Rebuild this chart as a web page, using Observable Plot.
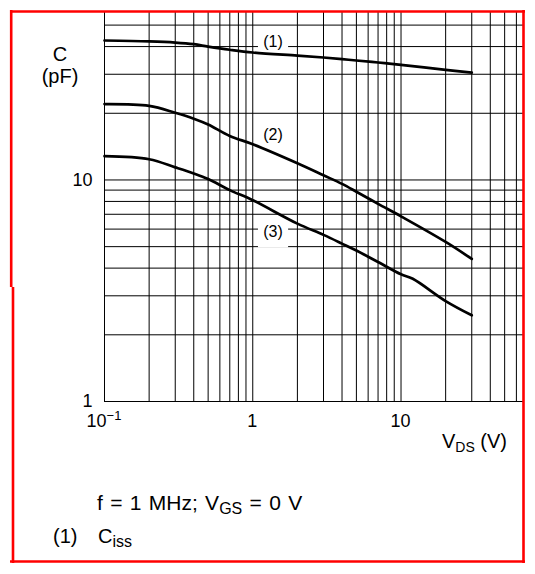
<!DOCTYPE html>
<html><head><meta charset="utf-8">
<script src="https://cdn.jsdelivr.net/npm/d3@7"></script>
<script src="https://cdn.jsdelivr.net/npm/@observablehq/plot@0.6"></script>
<style>
body{margin:0;background:#fff;}
#chart{position:relative;width:535px;height:574px;}
</style>
</head><body><div id="chart"></div>
<script>
// V_DS (V)
const vds = [0.1, 0.2, 0.3, 0.4, 0.5, 0.7, 1, 2, 3, 4, 5, 7, 10, 20, 30];
// (1) Ciss (pF)
const ciss = [42.6, 42.2, 41.7, 41.0, 40.0, 38.7, 37.6, 36.4, 35.7, 35.1, 34.6, 33.9, 33.1, 31.4, 30.5];
// (2) Coss (pF)
const coss = [22.0, 21.6, 20.1, 18.9, 17.8, 15.8, 14.5, 11.9, 10.5, 9.6, 8.85, 7.8, 6.85, 5.25, 4.4];
// (3) Crss (pF)
const vdsCrss = [0.1, 0.2, 0.3, 0.4, 0.5, 0.7, 1, 2, 3, 4, 5, 7, 10, 12, 20, 30];
const crss = [12.8, 12.4, 11.4, 10.7, 10.1, 9.0, 8.1, 6.35, 5.65, 5.16, 4.8, 4.26, 3.75, 3.58, 2.84, 2.45];

const xGrid = [0.1,0.2,0.3,0.4,0.5,0.6,0.7,0.8,0.9,1,2,3,4,5,6,7,8,9,10,20,30,40,50,60];
const yGrid = [1,2,3,4,5,6,7,8,9,10,20,30,40,50];
const xTicks = [0.1, 1, 10];
const yTicks = [1, 10];
const yTickLabels = ["1", "10"];

const curveLabels = [
  {x: 1.37, y: 42.2, t: "(1)"},
  {x: 1.37, y: 15.9, t: "(2)"},
  {x: 1.37, y: 5.8, t: "(3)"}
];

const rows = [
  ...vds.map((v, i) => ({s: "ciss", v, c: ciss[i]})),
  ...vds.map((v, i) => ({s: "coss", v, c: coss[i]})),
  ...vdsCrss.map((v, i) => ({s: "crss", v, c: crss[i]}))
];

const FONT = "'Liberation Sans', Arial, Helvetica, sans-serif";

const plot = Plot.plot({
  width: 535, height: 574,
  marginLeft: 104, marginRight: 12, marginTop: 12, marginBottom: 173,
  x: {type: "log", domain: [0.1, 67], axis: null},
  y: {type: "log", domain: [1, 57], axis: null},
  style: {fontFamily: FONT, background: "white", overflow: "visible"},
  marks: [
    Plot.ruleX(xGrid, {stroke: "black", strokeWidth: 1, strokeOpacity: 1}),
    Plot.ruleY(yGrid, {stroke: "black", strokeWidth: 1, strokeOpacity: 1}),
    Plot.dot(curveLabels, {x: "x", y: "y", symbol: "square", r: 17, fill: "white", stroke: null}),
    Plot.line(rows, {x: "v", y: "c", z: "s", stroke: "black", strokeWidth: 2.7, curve: "catmull-rom"}),
    Plot.text(curveLabels, {x: "x", y: "y", text: "t", fontSize: 16, fill: "black"}),
    Plot.text(yTicks, {frameAnchor: "left", y: d => d, text: (d, i) => yTickLabels[i], textAnchor: "end", dx: -12, fontSize: 18, fill: "black"})
  ]
});
document.getElementById("chart").appendChild(plot);

const svg = d3.select(plot);
const sx = plot.scale("x");
const g = svg.append("g").attr("font-family", FONT).attr("fill", "black").attr("text-anchor", "start");

// x tick labels
xTicks.forEach(v => {
  const t = g.append("text").attr("x", sx.apply(v)).attr("y", 427).attr("text-anchor", "middle").attr("font-size", 18);
  if (v === 0.1) {
    t.append("tspan").text("10");
    t.append("tspan").attr("font-size", 13).attr("dy", -7).text("\u22121");
  } else {
    t.text(String(v));
  }
});

// y axis title
g.append("text").attr("x", 60).attr("y", 61).attr("text-anchor", "middle").attr("font-size", 20).text("C");
g.append("text").attr("x", 60).attr("y", 83).attr("text-anchor", "middle").attr("font-size", 20).text("(pF)");

// x axis title
const xt = g.append("text").attr("x", 507).attr("y", 448).attr("text-anchor", "end").attr("font-size", 20);
xt.append("tspan").text("V");
xt.append("tspan").attr("font-size", 14).attr("dy", 4).text("DS");
xt.append("tspan").attr("dy", -4).text(" (V)");

// caption
const c1 = g.append("text").attr("x", 97).attr("y", 510).attr("font-size", 21).attr("word-spacing", 1.5);
c1.append("tspan").text("f = 1 MHz; V");
c1.append("tspan").attr("font-size", 16).attr("dy", 4).text("GS");
c1.append("tspan").attr("dy", -4).text(" = 0 V");

g.append("text").attr("x", 53).attr("y", 543).attr("font-size", 20).text("(1)");
const c2 = g.append("text").attr("x", 98).attr("y", 543).attr("font-size", 20);
c2.append("tspan").text("C");
c2.append("tspan").attr("font-size", 16).attr("dy", 4).text("iss");

// red frame
const fr = svg.append("g").attr("stroke", "#ff0000").attr("stroke-width", 2.6).attr("fill", "none");
fr.append("line").attr("x1", 10).attr("x2", 525).attr("y1", 11.5).attr("y2", 11.5);
fr.append("line").attr("x1", 523.5).attr("x2", 523.5).attr("y1", 10).attr("y2", 563);
fr.append("line").attr("x1", 10).attr("x2", 525).attr("y1", 561.5).attr("y2", 561.5);
fr.append("line").attr("x1", 11.2).attr("x2", 11.2).attr("y1", 10).attr("y2", 287);
fr.append("line").attr("x1", 13).attr("x2", 13).attr("y1", 287).attr("y2", 563);
</script>
</body></html>
